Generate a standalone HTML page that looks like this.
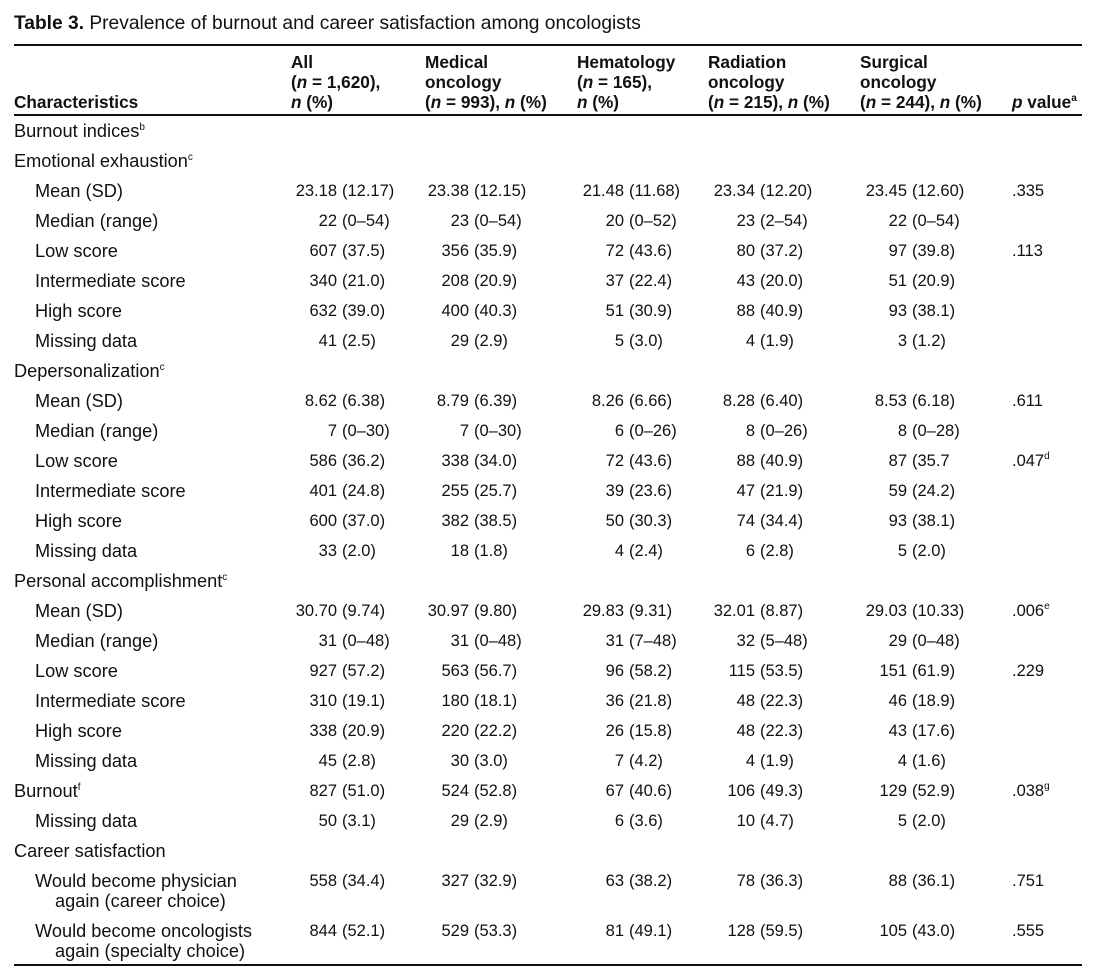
<!DOCTYPE html>
<html><head><meta charset="utf-8"><style>
body{margin:0;background:#fff;width:1103px;height:968px;position:relative;overflow:hidden;font-family:"Liberation Sans",sans-serif;font-size:16.5px;color:#111;}
.r{position:absolute;left:0;width:1103px;height:20px;line-height:20px;white-space:nowrap}
.l,.l2,.l3{font-size:18.2px}
.l{position:absolute;left:14px}
.l2{position:absolute;left:35px}
.l3{position:absolute;left:55px}
.v{position:absolute}
.a{position:absolute;right:100%;padding-right:5px}
.k1{left:342px}.k2{left:474px}.k3{left:629px}.k4{left:760px}.k5{left:912px}.p{position:absolute;left:1012px}
sup{font-size:10px;vertical-align:7px;line-height:0}
.h{position:absolute;font-weight:bold;line-height:20px;white-space:nowrap;font-size:17.2px}
.rule{position:absolute;left:14px;width:1068px;background:#111}
</style></head><body>
<div class="r" style="top:14px;font-size:19.2px"><span style="position:absolute;left:14px"><b>Table 3.</b> Prevalence of burnout and career satisfaction among oncologists</span></div>
<div class="rule" style="top:44px;height:2px"></div>
<div class="h" style="left:14px;top:92px">Characteristics</div>
<div class="h" style="left:291px;top:52px">All<br>(<i>n</i> = 1,620),<br><i>n</i> (%)</div>
<div class="h" style="left:425px;top:52px">Medical<br>oncology<br>(<i>n</i> = 993), <i>n</i> (%)</div>
<div class="h" style="left:577px;top:52px">Hematology<br>(<i>n</i> = 165),<br><i>n</i> (%)</div>
<div class="h" style="left:708px;top:52px">Radiation<br>oncology<br>(<i>n</i> = 215), <i>n</i> (%)</div>
<div class="h" style="left:860px;top:52px">Surgical<br>oncology<br>(<i>n</i> = 244), <i>n</i> (%)</div>
<div class="h" style="left:1012px;top:92px"><i>p</i> value<sup>a</sup></div>
<div class="rule" style="top:114px;height:2px"></div>

<div class="r" style="top:121px"><span class="l">Burnout indices<sup>b</sup></span></div>
<div class="r" style="top:151px"><span class="l">Emotional exhaustion<sup>c</sup></span></div>
<div class="r" style="top:181px"><span class="l2">Mean (SD)</span><span class="v k1"><span class="a">23.18</span>(12.17)</span><span class="v k2"><span class="a">23.38</span>(12.15)</span><span class="v k3"><span class="a">21.48</span>(11.68)</span><span class="v k4"><span class="a">23.34</span>(12.20)</span><span class="v k5"><span class="a">23.45</span>(12.60)</span><span class="p">.335</span></div>
<div class="r" style="top:211px"><span class="l2">Median (range)</span><span class="v k1"><span class="a">22</span>(0–54)</span><span class="v k2"><span class="a">23</span>(0–54)</span><span class="v k3"><span class="a">20</span>(0–52)</span><span class="v k4"><span class="a">23</span>(2–54)</span><span class="v k5"><span class="a">22</span>(0–54)</span></div>
<div class="r" style="top:241px"><span class="l2">Low score</span><span class="v k1"><span class="a">607</span>(37.5)</span><span class="v k2"><span class="a">356</span>(35.9)</span><span class="v k3"><span class="a">72</span>(43.6)</span><span class="v k4"><span class="a">80</span>(37.2)</span><span class="v k5"><span class="a">97</span>(39.8)</span><span class="p">.113</span></div>
<div class="r" style="top:271px"><span class="l2">Intermediate score</span><span class="v k1"><span class="a">340</span>(21.0)</span><span class="v k2"><span class="a">208</span>(20.9)</span><span class="v k3"><span class="a">37</span>(22.4)</span><span class="v k4"><span class="a">43</span>(20.0)</span><span class="v k5"><span class="a">51</span>(20.9)</span></div>
<div class="r" style="top:301px"><span class="l2">High score</span><span class="v k1"><span class="a">632</span>(39.0)</span><span class="v k2"><span class="a">400</span>(40.3)</span><span class="v k3"><span class="a">51</span>(30.9)</span><span class="v k4"><span class="a">88</span>(40.9)</span><span class="v k5"><span class="a">93</span>(38.1)</span></div>
<div class="r" style="top:331px"><span class="l2">Missing data</span><span class="v k1"><span class="a">41</span>(2.5)</span><span class="v k2"><span class="a">29</span>(2.9)</span><span class="v k3"><span class="a">5</span>(3.0)</span><span class="v k4"><span class="a">4</span>(1.9)</span><span class="v k5"><span class="a">3</span>(1.2)</span></div>

<div class="r" style="top:361px"><span class="l">Depersonalization<sup>c</sup></span></div>
<div class="r" style="top:391px"><span class="l2">Mean (SD)</span><span class="v k1"><span class="a">8.62</span>(6.38)</span><span class="v k2"><span class="a">8.79</span>(6.39)</span><span class="v k3"><span class="a">8.26</span>(6.66)</span><span class="v k4"><span class="a">8.28</span>(6.40)</span><span class="v k5"><span class="a">8.53</span>(6.18)</span><span class="p">.611</span></div>
<div class="r" style="top:421px"><span class="l2">Median (range)</span><span class="v k1"><span class="a">7</span>(0–30)</span><span class="v k2"><span class="a">7</span>(0–30)</span><span class="v k3"><span class="a">6</span>(0–26)</span><span class="v k4"><span class="a">8</span>(0–26)</span><span class="v k5"><span class="a">8</span>(0–28)</span></div>
<div class="r" style="top:451px"><span class="l2">Low score</span><span class="v k1"><span class="a">586</span>(36.2)</span><span class="v k2"><span class="a">338</span>(34.0)</span><span class="v k3"><span class="a">72</span>(43.6)</span><span class="v k4"><span class="a">88</span>(40.9)</span><span class="v k5"><span class="a">87</span>(35.7</span><span class="p">.047<sup>d</sup></span></div>
<div class="r" style="top:481px"><span class="l2">Intermediate score</span><span class="v k1"><span class="a">401</span>(24.8)</span><span class="v k2"><span class="a">255</span>(25.7)</span><span class="v k3"><span class="a">39</span>(23.6)</span><span class="v k4"><span class="a">47</span>(21.9)</span><span class="v k5"><span class="a">59</span>(24.2)</span></div>
<div class="r" style="top:511px"><span class="l2">High score</span><span class="v k1"><span class="a">600</span>(37.0)</span><span class="v k2"><span class="a">382</span>(38.5)</span><span class="v k3"><span class="a">50</span>(30.3)</span><span class="v k4"><span class="a">74</span>(34.4)</span><span class="v k5"><span class="a">93</span>(38.1)</span></div>
<div class="r" style="top:541px"><span class="l2">Missing data</span><span class="v k1"><span class="a">33</span>(2.0)</span><span class="v k2"><span class="a">18</span>(1.8)</span><span class="v k3"><span class="a">4</span>(2.4)</span><span class="v k4"><span class="a">6</span>(2.8)</span><span class="v k5"><span class="a">5</span>(2.0)</span></div>

<div class="r" style="top:571px"><span class="l">Personal accomplishment<sup>c</sup></span></div>
<div class="r" style="top:601px"><span class="l2">Mean (SD)</span><span class="v k1"><span class="a">30.70</span>(9.74)</span><span class="v k2"><span class="a">30.97</span>(9.80)</span><span class="v k3"><span class="a">29.83</span>(9.31)</span><span class="v k4"><span class="a">32.01</span>(8.87)</span><span class="v k5"><span class="a">29.03</span>(10.33)</span><span class="p">.006<sup>e</sup></span></div>
<div class="r" style="top:631px"><span class="l2">Median (range)</span><span class="v k1"><span class="a">31</span>(0–48)</span><span class="v k2"><span class="a">31</span>(0–48)</span><span class="v k3"><span class="a">31</span>(7–48)</span><span class="v k4"><span class="a">32</span>(5–48)</span><span class="v k5"><span class="a">29</span>(0–48)</span></div>
<div class="r" style="top:661px"><span class="l2">Low score</span><span class="v k1"><span class="a">927</span>(57.2)</span><span class="v k2"><span class="a">563</span>(56.7)</span><span class="v k3"><span class="a">96</span>(58.2)</span><span class="v k4"><span class="a">115</span>(53.5)</span><span class="v k5"><span class="a">151</span>(61.9)</span><span class="p">.229</span></div>
<div class="r" style="top:691px"><span class="l2">Intermediate score</span><span class="v k1"><span class="a">310</span>(19.1)</span><span class="v k2"><span class="a">180</span>(18.1)</span><span class="v k3"><span class="a">36</span>(21.8)</span><span class="v k4"><span class="a">48</span>(22.3)</span><span class="v k5"><span class="a">46</span>(18.9)</span></div>
<div class="r" style="top:721px"><span class="l2">High score</span><span class="v k1"><span class="a">338</span>(20.9)</span><span class="v k2"><span class="a">220</span>(22.2)</span><span class="v k3"><span class="a">26</span>(15.8)</span><span class="v k4"><span class="a">48</span>(22.3)</span><span class="v k5"><span class="a">43</span>(17.6)</span></div>
<div class="r" style="top:751px"><span class="l2">Missing data</span><span class="v k1"><span class="a">45</span>(2.8)</span><span class="v k2"><span class="a">30</span>(3.0)</span><span class="v k3"><span class="a">7</span>(4.2)</span><span class="v k4"><span class="a">4</span>(1.9)</span><span class="v k5"><span class="a">4</span>(1.6)</span></div>

<div class="r" style="top:781px"><span class="l">Burnout<sup>f</sup></span><span class="v k1"><span class="a">827</span>(51.0)</span><span class="v k2"><span class="a">524</span>(52.8)</span><span class="v k3"><span class="a">67</span>(40.6)</span><span class="v k4"><span class="a">106</span>(49.3)</span><span class="v k5"><span class="a">129</span>(52.9)</span><span class="p">.038<sup>g</sup></span></div>
<div class="r" style="top:811px"><span class="l2">Missing data</span><span class="v k1"><span class="a">50</span>(3.1)</span><span class="v k2"><span class="a">29</span>(2.9)</span><span class="v k3"><span class="a">6</span>(3.6)</span><span class="v k4"><span class="a">10</span>(4.7)</span><span class="v k5"><span class="a">5</span>(2.0)</span></div>
<div class="r" style="top:841px"><span class="l">Career satisfaction</span></div>
<div class="r" style="top:871px"><span class="l2">Would become physician</span><span class="v k1"><span class="a">558</span>(34.4)</span><span class="v k2"><span class="a">327</span>(32.9)</span><span class="v k3"><span class="a">63</span>(38.2)</span><span class="v k4"><span class="a">78</span>(36.3)</span><span class="v k5"><span class="a">88</span>(36.1)</span><span class="p">.751</span></div>
<div class="r" style="top:891px"><span class="l3">again (career choice)</span></div>
<div class="r" style="top:921px"><span class="l2">Would become oncologists</span><span class="v k1"><span class="a">844</span>(52.1)</span><span class="v k2"><span class="a">529</span>(53.3)</span><span class="v k3"><span class="a">81</span>(49.1)</span><span class="v k4"><span class="a">128</span>(59.5)</span><span class="v k5"><span class="a">105</span>(43.0)</span><span class="p">.555</span></div>
<div class="r" style="top:941px"><span class="l3">again (specialty choice)</span></div>
<div class="rule" style="top:964px;height:2px"></div>
</body></html>
